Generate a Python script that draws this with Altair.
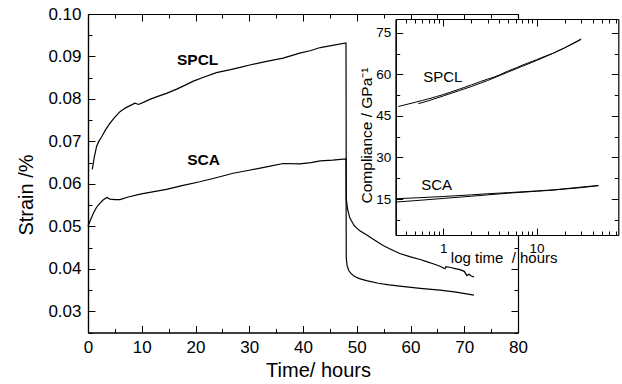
import altair as alt
import pandas as pd

# ---------------- main panel: strain (%) vs time (hours) ----------------
spcl_time = [0.8, 1.2, 1.6, 2.0, 2.55, 3.2, 4.1, 5.0, 5.95, 7.0, 8.1, 8.75, 9.4, 10.3, 11.5,
             13.0, 14.6, 16.5, 18.0, 19.6, 21.5, 23.9, 26.5, 28.5, 30.1, 33.0, 36.3, 39.4,
             41.5, 43.2, 45.5, 48.0,
             48.05, 48.3, 48.7, 49.5, 50.5, 51.8, 53.0, 54.9, 56.5, 58.0, 60.0, 61.8, 63.0,
             64.2, 65.5, 66.4, 66.6, 67.5, 68.5, 69.2, 70.0, 70.5, 70.9, 71.3, 71.8]
spcl_strain = [0.0634, 0.0665, 0.0688, 0.0700, 0.0711, 0.0726, 0.0743, 0.0757, 0.0770, 0.0779,
               0.0786, 0.0790, 0.0787, 0.0792, 0.0799, 0.0806, 0.0813, 0.0823, 0.0832, 0.0842,
               0.0851, 0.0862, 0.0869, 0.0875, 0.0880, 0.0888, 0.0896, 0.0908, 0.0914, 0.0921,
               0.0926, 0.0932,
               0.0565, 0.0540, 0.0520, 0.0502, 0.0490, 0.0480, 0.0470, 0.0455, 0.0445, 0.0436,
               0.0428, 0.0422, 0.0417, 0.0412, 0.0406, 0.0400, 0.0405, 0.0403, 0.0400, 0.0398,
               0.0394, 0.0384, 0.0387, 0.0383, 0.0381]

sca_time = [0.0, 0.5, 1.0, 1.6, 2.2, 2.8, 3.5, 4.1, 5.0, 5.95, 7.5, 9.7, 12.0, 14.6, 17.5,
            20.8, 24.0, 27.0, 30.0, 33.2, 36.3, 39.4, 41.5, 43.2, 45.5, 48.0,
            48.05, 48.2, 48.5, 49.0, 49.6, 50.5, 51.8, 54.0, 56.0, 58.0, 61.8, 65.5, 68.5, 71.8]
sca_strain = [0.0500, 0.0516, 0.0531, 0.0545, 0.0554, 0.0562, 0.0568, 0.0564, 0.0563, 0.0563,
              0.0569, 0.0576, 0.0581, 0.0587, 0.0596, 0.0605, 0.0615, 0.0625, 0.0632, 0.0640,
              0.0648, 0.0647, 0.0650, 0.0654, 0.0656, 0.0659,
              0.0425, 0.0408, 0.0396, 0.0388, 0.0382, 0.0377, 0.0372, 0.0366, 0.0362, 0.0359,
              0.0354, 0.0350, 0.0345, 0.0338]

main_label_text = ["SPCL", "SCA"]
main_label_time = [20.4, 21.5]
main_label_strain = [0.0892, 0.0656]

x_domain = [0, 80]
y_domain = [0.025, 0.10]
x_label_values = [0, 10, 20, 30, 40, 50, 60, 70, 80]
x_tick_values = [0, 5, 10, 15, 20, 25, 30, 35, 40, 45, 50, 55, 60, 65, 70, 75, 80]
y_label_values = [0.03, 0.04, 0.05, 0.06, 0.07, 0.08, 0.09, 0.10]
y_tick_values = [0.025, 0.03, 0.035, 0.04, 0.045, 0.05, 0.055, 0.06, 0.065, 0.07, 0.075,
                 0.08, 0.085, 0.09, 0.095, 0.10]

# ---------------- inset: compliance vs log time ----------------
inset_spcl_time = [0.33, 0.4, 0.5, 0.6, 0.7, 0.85, 1.0, 1.2, 1.5, 2.0, 2.5, 3.0, 3.5, 4.0,
                   5.0, 6.0, 7.0, 8.5, 10.0, 12.0, 15.0, 20.0, 25.0, 30.0]
inset_spcl_comp = [48.4, 49.1, 49.9, 50.6, 51.2, 52.0, 52.7, 53.6, 54.7, 56.2, 57.4, 58.3,
                   59.0, 59.8, 61.3, 62.3, 63.3, 64.4, 65.3, 66.4, 67.6, 69.6, 71.2, 72.6]
inset_spcl_fit_time = [0.54, 0.7, 1.0, 1.5, 2.0, 3.0, 5.0, 7.0, 10.0, 15.0, 20.0, 30.0]
inset_spcl_fit_comp = [49.4, 50.5, 52.2, 54.2, 55.6, 57.8, 60.9, 62.9, 65.0, 67.6, 69.6, 72.8]

inset_sca_time = [0.31, 0.5, 1.0, 2.0, 3.0, 5.0, 10.0, 15.0, 20.0, 30.0, 46.0]
inset_sca_comp = [15.1, 15.4, 15.9, 16.5, 16.9, 17.3, 17.9, 18.3, 18.7, 19.3, 19.9]
inset_sca_fit_time = [0.31, 0.5, 1.0, 2.0, 3.0, 5.0, 10.0, 15.0, 20.0, 30.0, 46.0]
inset_sca_fit_comp = [13.9, 14.4, 15.2, 16.0, 16.5, 17.1, 17.8, 18.2, 18.6, 19.1, 19.8]

inset_label_text = ["SPCL", "SCA"]
inset_label_time = [0.99, 0.85]
inset_label_comp = [59.0, 20.2]

inset_x_domain = [0.31, 75]
inset_y_domain = [2, 80]
inset_x_label_values = [1, 10]
inset_x_tick_values = [0.4, 0.5, 0.6, 0.7, 0.8, 0.9, 1, 2, 3, 4, 5, 6, 7, 8, 9, 10,
                       20, 30, 40, 50, 60, 70]
inset_y_label_values = [15, 30, 45, 60, 75]
inset_y_tick_values = [7.5, 15, 22.5, 30, 37.5, 45, 52.5, 60, 67.5, 75]

# ---------------- layout ----------------
FONT = "Liberation Sans"
W, H = 430, 318.5
PAD = {"left": 88, "top": 14, "right": 104, "bottom": 51.5}
INSET_X_RANGE = [307.7, 530.3]
INSET_Y_RANGE = [221, 5]


def series_df(xs, ys, name, xname, yname):
    return pd.DataFrame({xname: xs, yname: ys, "series": name, "i": list(range(len(xs)))})


def label_axis(orient, offset, values, fmt, size, pad, title, tsize, tx, ty, z):
    return alt.Axis(orient=orient, offset=offset, values=values, format=fmt,
                    ticks=False, tickSize=0, labelPadding=pad, labelFont=FONT,
                    labelFontSize=size, labelColor="black", labelFlush=False,
                    labelOverlap=False, domain=True, domainColor="black", domainWidth=1.2,
                    grid=False, title=title, titleFont=FONT, titleFontSize=tsize,
                    titleFontWeight="normal", titleColor="black", titleX=tx, titleY=ty,
                    titleAlign="center", titleBaseline="alphabetic", zindex=z)


def tick_axis(orient, offset, values, expr, z):
    return alt.Axis(orient=orient, offset=offset, values=values, labels=False, title=None,
                    ticks=True, tickSize=alt.ExprRef(expr=expr), tickColor="black",
                    tickWidth=1, domain=True, domainColor="black", domainWidth=1.2,
                    grid=False, zindex=z)


# ---- main panel ----
spcl_df = series_df(spcl_time, spcl_strain, "SPCL", "time", "strain")
sca_df = series_df(sca_time, sca_strain, "SCA", "time", "strain")
main_lab_df = pd.DataFrame({"time": main_label_time, "strain": main_label_strain,
                            "label": main_label_text})

xs = alt.Scale(domain=x_domain, nice=False, zero=False)
ys = alt.Scale(domain=y_domain, nice=False, zero=False)
x_expr = "datum.value % 10 === 0 ? 7 : 4"
y_expr = "round(datum.value * 1000) % 10 === 0 ? 7 : 4"

main_x_lab = label_axis("bottom", 0, x_label_values, "d", 17, 7, "Time/ hours", 20, 230, 44, 0)
main_y_lab = label_axis("left", 0, y_label_values, ".2f", 17, 7, "Strain /%", 20, -55.5, 180.5, 0)

spcl_layer = alt.Chart(spcl_df).mark_line(color="black", strokeWidth=1.2).encode(
    x=alt.X("time:Q", scale=xs, axis=main_x_lab),
    y=alt.Y("strain:Q", scale=ys, axis=main_y_lab),
    order="i:Q",
)
sca_layer = alt.Chart(sca_df).mark_line(color="black", strokeWidth=1.2).encode(
    x=alt.X("time:Q", scale=xs, axis=tick_axis("top", -H, x_tick_values, x_expr, 0)),
    y=alt.Y("strain:Q", scale=ys, axis=tick_axis("right", -W, y_tick_values, y_expr, 0)),
    order="i:Q",
)
main_text = alt.Chart(main_lab_df).mark_text(
    font=FONT, fontSize=15.5, fontWeight="bold", color="black", align="center", baseline="middle"
).encode(
    x=alt.X("time:Q", scale=xs, axis=tick_axis("bottom", -H, x_tick_values, x_expr, 0)),
    y=alt.Y("strain:Q", scale=ys, axis=tick_axis("left", -W, y_tick_values, y_expr, 0)),
    text="label:N",
)
main = alt.layer(spcl_layer, sca_layer, main_text).resolve_axis(x="independent", y="independent")

# ---- inset ----
inset_df = pd.concat([
    series_df(inset_spcl_time, inset_spcl_comp, "SPCL data", "t", "c"),
    series_df(inset_spcl_fit_time, inset_spcl_fit_comp, "SPCL fit", "t", "c"),
    series_df(inset_sca_time, inset_sca_comp, "SCA data", "t", "c"),
    series_df(inset_sca_fit_time, inset_sca_fit_comp, "SCA fit", "t", "c"),
], ignore_index=True)
inset_lab_df = pd.DataFrame({"t": inset_label_time, "c": inset_label_comp, "label": inset_label_text})
inset_bg_df = pd.DataFrame({"t0": [inset_x_domain[0]], "t1": [inset_x_domain[1]],
                            "c0": [inset_y_domain[0]], "c1": [inset_y_domain[1]]})

ixs = alt.Scale(type="log", domain=inset_x_domain, range=INSET_X_RANGE, nice=False)
iys = alt.Scale(domain=inset_y_domain, range=INSET_Y_RANGE, nice=False, zero=False)
ix_expr = "(datum.value === 1 || datum.value === 10) ? 7 : 4"
iy_expr = "datum.value % 15 === 0 ? 7 : 4"

inset_x_lab = label_axis("bottom", -(H - INSET_Y_RANGE[0]), inset_x_label_values, "d", 13.5, 6,
                         "log time\u00a0 / hours", 15, 415.7, 27, 1)
inset_y_lab = label_axis("left", -INSET_X_RANGE[0], inset_y_label_values, "d", 13.5, 5,
                         "Compliance / GPa\u207b\u00b9", 15.5, -24.5, 121, 1)

inset_bg = alt.Chart(inset_bg_df).mark_rect(fill="white").encode(
    x=alt.X("t0:Q", scale=ixs, axis=inset_x_lab),
    x2="t1:Q",
    y=alt.Y("c0:Q", scale=iys, axis=inset_y_lab),
    y2="c1:Q",
)
inset_lines = alt.Chart(inset_df).mark_line(color="black", strokeWidth=1).encode(
    x=alt.X("t:Q", scale=ixs,
            axis=tick_axis("top", -INSET_Y_RANGE[0], inset_x_tick_values, ix_expr, 1)),
    y=alt.Y("c:Q", scale=iys,
            axis=tick_axis("right", -(W - INSET_X_RANGE[0]), inset_y_tick_values, iy_expr, 1)),
    detail="series:N",
    order="i:Q",
)
inset_text = alt.Chart(inset_lab_df).mark_text(
    font=FONT, fontSize=15, color="black", align="center", baseline="middle"
).encode(
    x=alt.X("t:Q", scale=ixs,
            axis=tick_axis("bottom", -(H - INSET_Y_RANGE[1]), inset_x_tick_values, ix_expr, 1)),
    y=alt.Y("c:Q", scale=iys,
            axis=tick_axis("left", -INSET_X_RANGE[1], inset_y_tick_values, iy_expr, 1)),
    text="label:N",
)
inset = alt.layer(inset_bg, inset_lines, inset_text).resolve_axis(x="independent", y="independent")

chart = alt.layer(main, inset).resolve_scale(x="independent", y="independent").properties(
    width=W, height=H,
    autosize=alt.AutoSizeParams(type="none"),
    padding=PAD,
).configure_view(stroke=None)

chart.save("out.html", embed_options={"renderer": "svg", "actions": False})
